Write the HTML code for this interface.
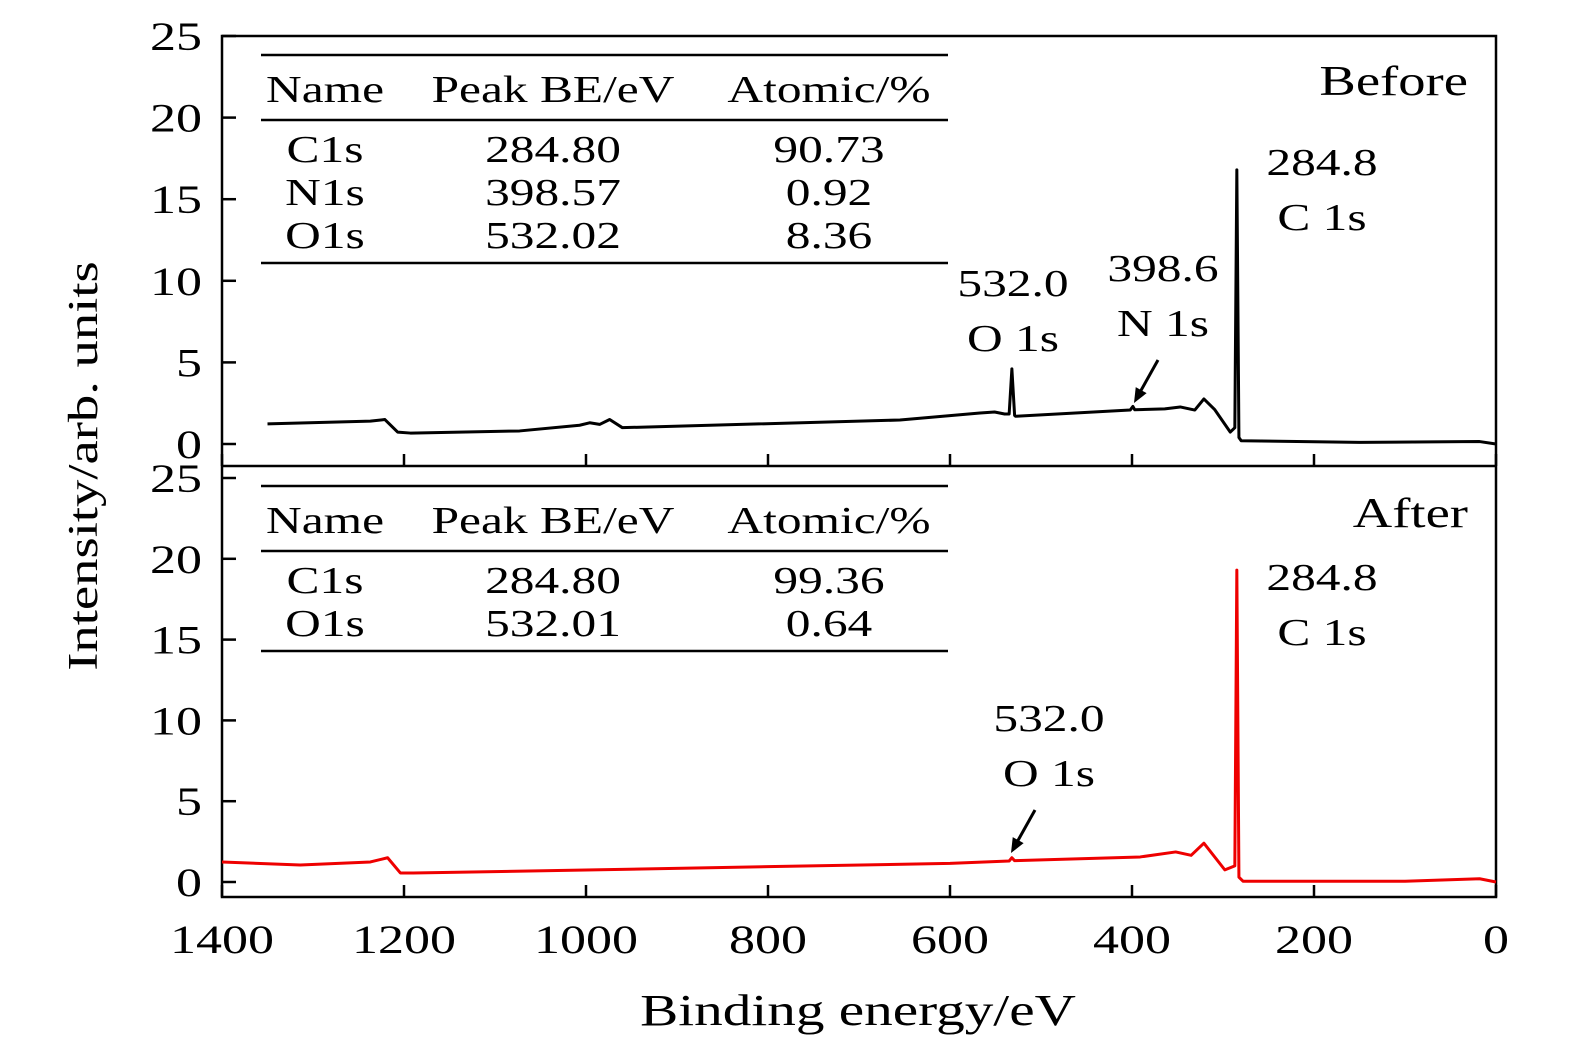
<!DOCTYPE html>
<html><head><meta charset="utf-8"><style>
body{margin:0;background:#fff}
svg text{font-family:"Liberation Serif","DejaVu Serif",serif;fill:#000}
</style></head><body>
<svg width="1575" height="1053" viewBox="0 0 1575 1053">
<g id="g"></g>
</svg>
<script>
const xTicks=[1400,1200,1000,800,600,400,200,0];
const yTicks=[0,5,10,15,20,25];
const beforeBE=[1350,1237,1221,1207,1193,1073,1007,996,985,974,960,655,567,551,540,535,532,529,528,402,399,397,364,347,331,321,309,292,287,284.8,282.5,280,150,18,0];
const beforeI=[1.23,1.4,1.5,0.73,0.67,0.8,1.15,1.3,1.2,1.5,1.0,1.47,1.9,1.96,1.84,1.84,4.6,1.75,1.7,2.08,2.3,2.1,2.15,2.27,2.08,2.76,2.1,0.73,1.0,16.8,0.4,0.2,0.1,0.15,0.0];
const afterBE=[1400,1314,1237,1218,1204,1190,1000,800,600,535,532,529,391,352,335,321,298,287,284.8,282.5,278,100,18,0];
const afterI=[1.24,1.05,1.24,1.5,0.56,0.56,0.74,0.95,1.15,1.3,1.5,1.32,1.55,1.86,1.65,2.4,0.75,1.0,19.3,0.3,0.05,0.05,0.2,0.0];
const tblBefore=[["C1s","284.80","90.73"],["N1s","398.57","0.92"],["O1s","532.02","8.36"]];
const tblAfter=[["C1s","284.80","99.36"],["O1s","532.01","0.64"]];

const NS="http://www.w3.org/2000/svg";const g=document.getElementById('g');
function mk(t,a,p){const e=document.createElementNS(NS,t);for(const k in a)e.setAttribute(k,a[k]);(p||g).appendChild(e);return e;}
const X=be=>222+(1400-be)*1274/1400;
const Ytop=v=>444-v*16.32, Ybot=v=>882-v*16.16;
function txt(s,x,y,anc,size,name){const t=mk('text',{x:x,y:y,'text-anchor':anc||'middle','font-size':size||38});t.textContent=s;


const L=t.getComputedTextLength();
t.setAttribute('textLength',(L*1.3).toFixed(1));
t.setAttribute('lengthAdjust','spacingAndGlyphs');
return t;}
const fr=mk('rect',{x:222,y:36,width:1274,height:861,fill:'none',stroke:'#000','stroke-width':2.5});


const dv=mk('line',{x1:222,x2:1496,y1:466,y2:466,stroke:'#000','stroke-width':2.5});


xTicks.forEach(v=>{const x=X(v);
 [466,897].forEach(yb=>{const l=mk('line',{x1:x,x2:x,y1:yb,y2:yb-12,stroke:'#000','stroke-width':2.5});
 
 });
 txt(String(v),x,953,'middle',40,'x-tick-label');});
yTicks.forEach(v=>{[Ytop,Ybot].forEach(f=>{const y=f(v);
 const l=mk('line',{x1:222,x2:236,y1:y,y2:y,stroke:'#000','stroke-width':2.5});
 
 
 txt(String(v),202,y+14,'end',40,'y-tick-label');});});
txt('Binding energy/eV',858,1025,'middle',44,'x-axis-title');
const yt=txt('Intensity/arb. units',0,0,'middle',42,'y-axis-title');yt.setAttribute('transform','translate(97,466) rotate(-90)');
function series(be,iv,f,col,name){const p=mk('polyline',{points:be.map((b,i)=>X(b)+','+f(iv[i])).join(' '),fill:'none',stroke:col,'stroke-width':3,'stroke-linejoin':'round'});

}
series(beforeBE,beforeI,Ytop,'#000','before-spectrum');
series(afterBE,afterI,Ybot,'#e00','after-spectrum');
function table(rows,y0,y1,y2,hy,ry,name){
 [y0,y1,y2].forEach(y=>{const l=mk('line',{x1:261,x2:948,y1:y,y2:y,stroke:'#000','stroke-width':2.5});
 
 });
 txt('Name',325,hy,'middle',38,name+'-header');txt('Peak BE/eV',553,hy,'middle',38,name+'-header');txt('Atomic/%',829,hy,'middle',38,name+'-header');
 rows.forEach((r,i)=>{const y=ry+i*43;txt(r[0],325,y,'middle',38,name+'-cell');txt(r[1],553,y,'middle',38,name+'-cell');txt(r[2],829,y,'middle',38,name+'-cell');});}
table(tblBefore,55,120,263,102,162,'before-table');
table(tblAfter,486,551,651,533,593,'after-table');
txt('Before',1468,95,'end',42,'before-label');
txt('After',1468,527,'end',42,'after-label');
txt('284.8',1322,175,'middle',38,'c1s-value');txt('C  1s',1322,230,'middle',38,'c1s-label');
txt('532.0',1013,296,'middle',38,'o1s-value');txt('O  1s',1013,351,'middle',38,'o1s-label');
txt('398.6',1163,281,'middle',38,'n1s-value');txt('N  1s',1163,336,'middle',38,'n1s-label');
txt('284.8',1322,590,'middle',38,'c1s-value-after');txt('C  1s',1322,645,'middle',38,'c1s-label-after');
txt('532.0',1049,731,'middle',38,'o1s-value-after');txt('O  1s',1049,786,'middle',38,'o1s-label-after');
function arrow(x1,y1,x2,y2,name){const l=mk('line',{x1:x1,y1:y1,x2:x2+5,y2:y2-9,stroke:'#000','stroke-width':3});


const a=Math.atan2(y2-y1,x2-x1),L=16,w=0.4;
const p=mk('polygon',{points:`${x2},${y2} ${x2-L*Math.cos(a-w)},${y2-L*Math.sin(a-w)} ${x2-L*Math.cos(a+w)},${y2-L*Math.sin(a+w)}`,fill:'#000'});

}
arrow(1158,360,1134,403,'n1s-arrow');
arrow(1035,810,1011,853,'o1s-arrow-after');
</script>
</body></html>
